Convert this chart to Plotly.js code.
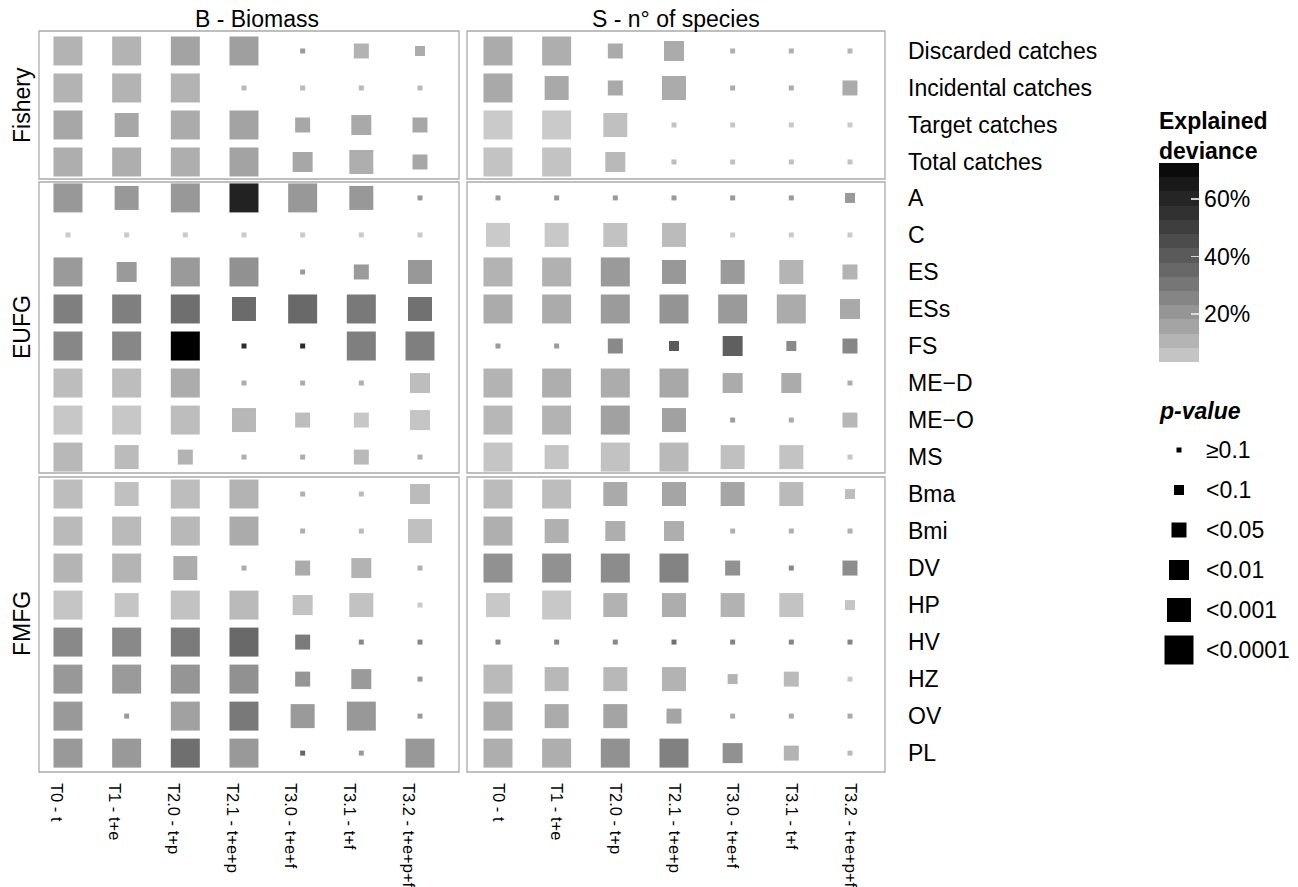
<!DOCTYPE html>
<html>
<head>
<meta charset="utf-8">
<script src="https://cdn.plot.ly/plotly-3.0.1.min.js"></script>
<style>html,body{margin:0;padding:0;background:#fff;}#chart{width:1298px;height:887px;}</style>
</head>
<body>
<div id="chart"></div>
<script>
// ---------- DATA ----------
const models = ['T0 - t','T1 - t+e','T2.0 - t+p','T2.1 - t+e+p','T3.0 - t+e+f','T3.1 - t+f','T3.2 - t+e+p+f'];
const colFacets = ['B - Biomass','S - n° of species'];
const rowFacets = ['Fishery','EUFG','FMFG'];
const fisheryRows = ['Discarded catches','Incidental catches','Target catches','Total catches'];
const eufgRows = ['A','C','ES','ESs','FS','ME\u2212D','ME\u2212O','MS'];
const fmfgRows = ['Bma','Bmi','DV','HP','HV','HZ','OV','PL'];
const pLabels = ['\u22650.1','<0.1','<0.05','<0.01','<0.001','<0.0001'];
const devTicks = [20,40,60];
const devTickText = ['20%','40%','60%'];
const devMin = 3.3, devMax = 72.5;

// explained deviance (%) — Biomass
const bioFishDev = [
  [11,11,16,17,19,11,13],
  [11,11,11,9,9,9,9],
  [14.5,14.5,13.5,16,14.5,14,14.5],
  [12.5,12.5,12.5,16,14.5,12.5,14.5]
];
const bioFishP = [
  [5,5,5,5,0,2,1],
  [5,5,5,0,0,0,0],
  [5,4,5,5,2,3,2],
  [5,5,5,5,3,4,2]
];
const bioEufgDev = [
  [19.5,19.5,19.5,61.5,19.5,19.5,19],
  [4,4,4,4,4,4,4],
  [19,19,19,22,19,19,19.5],
  [27.5,27.5,33,34.5,35,29.5,32.3],
  [25,25,72.5,58,58,27.5,27.5],
  [8,8,13,13,13,12,8],
  [5,5,8,9.5,8,5,5.5],
  [9.3,8.5,11,12,13,9,12]
];
const bioEufgP = [
  [5,4,5,5,5,4,0],
  [0,0,0,0,0,0,0],
  [5,3,5,5,0,2,4],
  [5,5,5,4,5,5,4],
  [5,5,5,0,0,5,5],
  [5,5,5,0,0,0,3],
  [5,5,5,4,2,2,3],
  [5,4,2,0,0,2,0]
];
const bioFmfgDev = [
  [8,7,8,11,12,8.5,8.5],
  [8.7,8.7,9.3,13.5,12,8.5,7],
  [10.5,10.5,13,13,13.5,11,12],
  [5.5,5.5,6.5,8.7,6.5,6.5,4],
  [24.3,24.3,29,35,29,25,25],
  [19.5,19,20.5,22,20.5,19,19.5],
  [19.2,19,16.5,29.5,19,19.5,19],
  [19.2,19.2,33,19.2,36,19,19.5]
];
const bioFmfgP = [
  [5,4,5,5,0,0,3],
  [5,5,5,5,0,0,4],
  [5,5,4,0,2,3,0],
  [5,4,5,5,3,4,0],
  [5,5,5,5,2,0,0],
  [5,5,5,5,2,3,0],
  [5,0,5,5,4,5,0],
  [5,5,5,5,0,0,5]
];
// explained deviance (%) — n° of species
const spFishDev = [
  [13.5,12.5,13.5,13.5,12,12,10],
  [14,14,14,13.5,13,13,13.5],
  [4,4,7,6,5,5,4],
  [6,6,9,8,7,7,6]
];
const spFishP = [
  [5,5,2,3,0,0,0],
  [5,4,2,4,0,0,2],
  [5,5,4,0,0,0,0],
  [5,5,3,0,0,0,0]
];
const spEufgDev = [
  [19,19,19,19,19,19,19],
  [4,4.5,6.5,8.5,4,4,4],
  [11,11.5,19,19.5,19,10.5,11],
  [13.5,13.5,18.5,21,19,13.5,14],
  [19,19,24.5,40,38.5,24.5,25],
  [11,12.3,13,14.3,13.5,13.5,13],
  [9.7,11,16.5,16.5,18,13.5,9.5],
  [5.5,5.5,6.5,9,7,6,5]
];
const spEufgP = [
  [0,0,0,0,0,0,1],
  [4,4,4,4,0,0,0],
  [5,5,5,4,4,4,2],
  [5,5,5,5,5,5,3],
  [0,0,2,1,3,1,2],
  [5,5,5,5,3,3,0],
  [5,5,5,4,0,0,2],
  [5,4,5,5,4,4,0]
];
const spFmfgDev = [
  [8.5,8,13.8,15.3,15.3,8.7,8],
  [12,11.8,12.3,12.3,12,12,12],
  [22,22,23.5,26.2,22,25,23],
  [4.7,4.7,11.3,12.8,11.3,6,5.5],
  [25,25,25,33,26,26,26],
  [8.7,9.3,9.3,11,11,8.7,4.5],
  [13.5,13.5,15.6,15.6,13.5,13.5,13.5],
  [12.3,12.3,21.8,26.8,21.8,11,8.7]
];
const spFmfgP = [
  [5,5,4,4,4,4,1],
  [5,4,3,3,0,0,0],
  [5,5,5,5,2,0,2],
  [4,5,4,4,4,4,1],
  [0,0,0,0,0,0,0],
  [5,4,4,4,1,2,0],
  [5,4,4,2,0,0,0],
  [5,5,5,5,3,2,0]
];

// ---------- STYLE ----------
const W = 1298, H = 887;
const fx = px => px / W;
const fy = py => 1 - py / H;
const pSizes = [5,10,15,20,24,29];
const FONT = 'Liberation Sans, Arial, Helvetica, sans-serif';
const TXT = 23;
const CB = { left: 1159, top: 163, len: 199, thick: 40 };

function grey(t) {
  const L = 82.04 * (1 - t);
  const Y = L > 8 ? Math.pow((L + 16) / 116, 3) : L / 903.3;
  const c = Y <= 0.0031308 ? 12.92 * Y : 1.055 * Math.pow(Y, 1 / 2.4) - 0.055;
  const v = Math.round(Math.max(0, Math.min(1, c)) * 255);
  return 'rgb(' + v + ',' + v + ',' + v + ')';
}
const smoothScale = [];
for (let i = 0; i <= 20; i++) smoothScale.push([i / 20, grey(i / 20)]);
const nb = 14, stepScale = [];
for (let k = 0; k < nb; k++) {
  const col = grey((k + 0.5) / nb);
  stepScale.push([k / nb, col]);
  stepScale.push([(k + 1) / nb, col]);
}

function panelTrace(rows, dev, p, xa, ya) {
  const x = [], y = [], c = [], s = [];
  rows.forEach((r, i) => {
    models.forEach((m, j) => {
      x.push(m); y.push(r); c.push(dev[i][j]); s.push(pSizes[p[i][j]]);
    });
  });
  return {
    type: 'scatter', mode: 'markers', x: x, y: y, xaxis: xa, yaxis: ya,
    showlegend: false, hoverinfo: 'x+y',
    marker: { symbol: 'square', size: s, color: c, colorscale: smoothScale, opacity: 1,
      cmin: devMin, cmax: devMax, showscale: false, line: { width: 0 } }
  };
}

const traces = [
  panelTrace(fisheryRows, bioFishDev, bioFishP, 'x', 'y'),
  panelTrace(fisheryRows, spFishDev, spFishP, 'x2', 'y'),
  panelTrace(eufgRows, bioEufgDev, bioEufgP, 'x3', 'y2'),
  panelTrace(eufgRows, spEufgDev, spEufgP, 'x4', 'y2'),
  panelTrace(fmfgRows, bioFmfgDev, bioFmfgP, 'x5', 'y3'),
  panelTrace(fmfgRows, spFmfgDev, spFmfgP, 'x6', 'y3'),
  { // p-value legend keys
    type: 'scatter', mode: 'markers', x: pLabels.map(() => 0), y: pLabels,
    xaxis: 'x7', yaxis: 'y4', showlegend: false, hoverinfo: 'y',
    marker: { symbol: 'square', size: pSizes, color: '#000', opacity: 1, line: { width: 0 } }
  },
  { // colour bar carrier
    type: 'scatter', mode: 'markers', x: [0], y: [pLabels[0]], xaxis: 'x7', yaxis: 'y4',
    showlegend: false, hoverinfo: 'skip', opacity: 0,
    marker: { size: 1, color: [devMin], colorscale: stepScale, cmin: devMin, cmax: devMax,
      showscale: true,
      colorbar: { x: fx(CB.left), xanchor: 'left', y: fy(CB.top), yanchor: 'top',
        len: CB.len, lenmode: 'pixels', thickness: CB.thick, thicknessmode: 'pixels',
        outlinewidth: 0, borderwidth: 0, xpad: 0, ypad: 0,
        tickmode: 'array', tickvals: devTicks, ticktext: devTickText,
        ticks: 'inside', ticklen: 8, tickwidth: 1.2, tickcolor: 'rgba(225,225,225,0.9)',
        tickfont: { size: TXT, family: FONT, color: '#000' } } }
  }
];

const leftRange = [-0.494, 6.665], rightRange = [-0.528, 6.597];
const leftDom = [fx(39), fx(459)], rightDom = [fx(467), fx(885)];
function xAx(dom, rng, anchor, labels, shift) {
  return { domain: dom, range: rng, anchor: anchor, type: 'category', categoryarray: models,
    categoryorder: 'array', showgrid: false, zeroline: false, showline: false, ticks: '',
    showticklabels: labels, tickangle: 90, ticklabelstandoff: 10, ticklabelshift: shift || 0,
    tickfont: { size: 16.5, family: FONT, color: '#000' }, fixedrange: true };
}
function yAx(dom, rows, rng) {
  return { domain: dom, range: rng, anchor: 'x2', side: 'right', type: 'category',
    categoryarray: rows, categoryorder: 'array', showgrid: false, zeroline: false,
    showline: false, ticks: '', ticklabelstandoff: 22,
    tickfont: { size: TXT, family: FONT, color: '#000' }, fixedrange: true };
}

const shapes = [['x','y'],['x2','y'],['x3','y2'],['x4','y2'],['x5','y3'],['x6','y3']].map(p => ({
  type: 'rect', xref: p[0] + ' domain', yref: p[1] + ' domain', x0: 0, x1: 1, y0: 0, y1: 1,
  line: { color: '#ababab', width: 1.3 }, fillcolor: 'rgba(0,0,0,0)', layer: 'below'
}));
// left-edge colour-bar ticks (mirroring the inside ticks on the right edge)
devTicks.forEach(v => {
  const py = CB.top + CB.len * (1 - (v - devMin) / (devMax - devMin));
  shapes.push({ type: 'line', xref: 'paper', yref: 'paper', x0: fx(CB.left), x1: fx(CB.left + 8),
    y0: fy(py), y1: fy(py), line: { color: 'rgba(225,225,225,0.9)', width: 1.2 }, layer: 'above' });
});

const annFont = { size: TXT, family: FONT, color: '#000' };
const annotations = [
  { text: colFacets[0], x: fx(257), y: fy(19) },
  { text: colFacets[1], x: fx(676), y: fy(19) },
  { text: rowFacets[0], x: fx(22), y: fy(105), textangle: -90 },
  { text: rowFacets[1], x: fx(22), y: fy(327), textangle: -90 },
  { text: rowFacets[2], x: fx(22), y: fy(624), textangle: -90 },
].map(a => Object.assign({ xref: 'paper', yref: 'paper', showarrow: false,
  xanchor: 'center', yanchor: 'middle', font: annFont }, a));
annotations.push({ text: '<b>Explained<br>deviance</b>', xref: 'paper', yref: 'paper',
  x: fx(1157), y: fy(136), xanchor: 'left', yanchor: 'middle', align: 'left',
  showarrow: false, font: annFont });
annotations.push({ text: '<b><i>p-value</i></b>', xref: 'paper', yref: 'paper',
  x: fx(1157), y: fy(411), xanchor: 'left', yanchor: 'middle', align: 'left',
  showarrow: false, font: annFont });

const layout = {
  width: W, height: H, margin: { l: 0, r: 0, t: 0, b: 0 },
  paper_bgcolor: '#fff', plot_bgcolor: 'rgba(0,0,0,0)', showlegend: false,
  font: { family: FONT, color: '#000' },
  xaxis: xAx(leftDom, leftRange, 'y', false),
  xaxis2: xAx(rightDom, rightRange, 'y', false),
  xaxis3: xAx(leftDom, leftRange, 'y2', false),
  xaxis4: xAx(rightDom, rightRange, 'y2', false),
  xaxis5: xAx(leftDom, leftRange, 'y3', true, -12),
  xaxis6: xAx(rightDom, rightRange, 'y3', true),
  yaxis: yAx([fy(179), fy(31)], fisheryRows, [3.46, -0.54]),
  yaxis2: yAx([fy(473), fy(182)], eufgRows, [7.43, -0.43]),
  yaxis3: yAx([fy(772), fy(477)], fmfgRows, [7.51, -0.46]),
  xaxis7: { domain: [fx(1159), fx(1199)], range: [-1, 1], anchor: 'y4', visible: false, fixedrange: true },
  yaxis4: { domain: [fy(670), fy(430)], anchor: 'x7', side: 'right', type: 'category',
    categoryarray: pLabels, categoryorder: 'array', range: [5.5, -0.5], showgrid: false,
    zeroline: false, showline: false, ticks: '', ticklabelstandoff: 6,
    tickfont: { size: TXT, family: FONT, color: '#000' }, fixedrange: true },
  shapes: shapes,
  annotations: annotations
};

Plotly.newPlot('chart', traces, layout, { displayModeBar: false, staticPlot: true });
</script>
</body>
</html>
